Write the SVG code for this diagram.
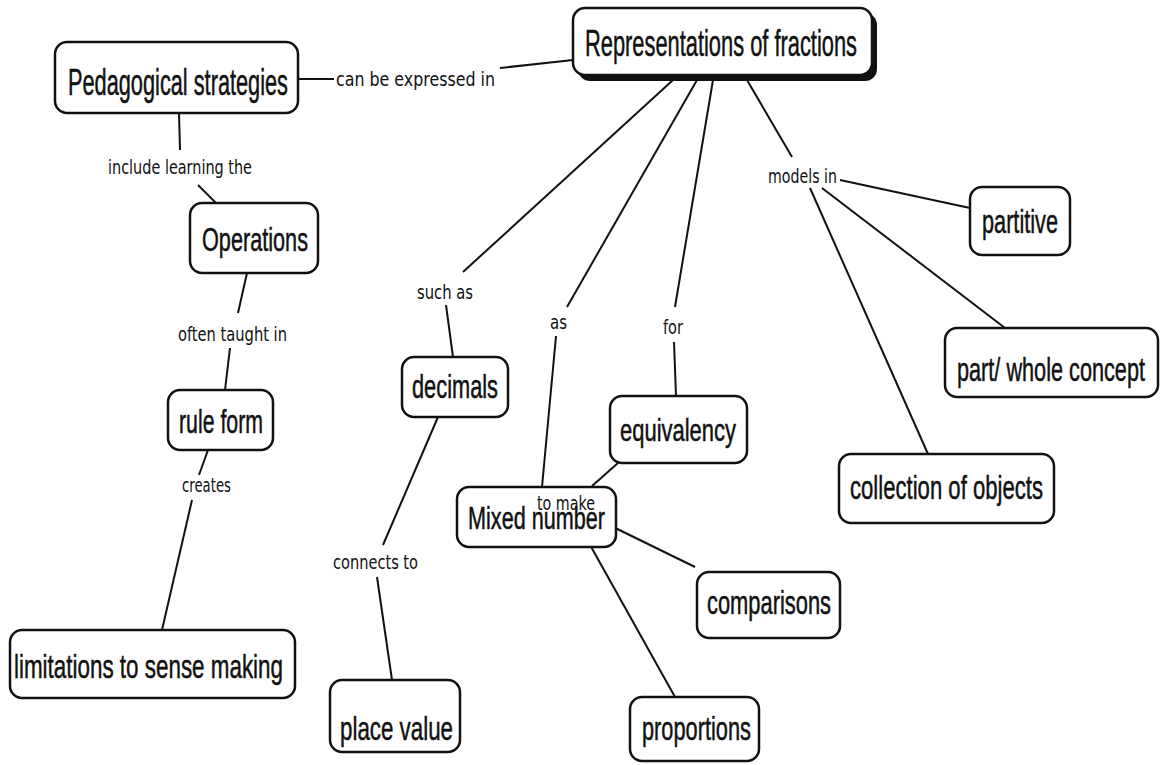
<svg xmlns="http://www.w3.org/2000/svg" width="1164" height="765" viewBox="0 0 1164 765">
<style>
.box{fill:#fff;stroke:#111;stroke-width:2.5}
.sh{fill:#111}
.nt{font-family:"Liberation Sans Narrow","Liberation Sans",Arial,sans-serif;fill:#111;stroke:#111;stroke-width:0.5}
.lt{font-family:"DejaVu Sans Condensed","DejaVu Sans",sans-serif;font-size:20px;fill:#111}
.c line{stroke:#111;stroke-width:2;fill:none}
</style>
<rect width="1164" height="765" fill="#fff"/>
<g class="c" id="connectors">
<line x1="298" y1="79" x2="334" y2="79"/>
<line x1="500" y1="68" x2="573" y2="60"/>
<line x1="179" y1="113" x2="180" y2="150"/>
<line x1="198" y1="185" x2="216" y2="203"/>
<line x1="247" y1="273" x2="238" y2="313"/>
<line x1="230" y1="348" x2="225" y2="390"/>
<line x1="208" y1="450" x2="199" y2="475"/>
<line x1="192" y1="500" x2="162" y2="630"/>
<line x1="673" y1="80" x2="463" y2="272"/>
<line x1="446" y1="305" x2="453" y2="357"/>
<line x1="438" y1="417" x2="383" y2="545"/>
<line x1="377" y1="577" x2="392" y2="680"/>
<line x1="697" y1="80" x2="567" y2="307"/>
<line x1="556" y1="336" x2="542" y2="487"/>
<line x1="713" y1="80" x2="675" y2="307"/>
<line x1="674" y1="342" x2="676" y2="396"/>
<line x1="747" y1="80" x2="792" y2="157"/>
<line x1="840" y1="180" x2="970" y2="208"/>
<line x1="822" y1="188" x2="1005" y2="328"/>
<line x1="810" y1="188" x2="928" y2="454"/>
<line x1="618" y1="463" x2="592" y2="486"/>
<line x1="603" y1="522" x2="695" y2="567"/>
<line x1="580" y1="527" x2="675" y2="697"/>
</g>
<g id="labels">
<text class="lt" x="336" y="86" textLength="159" lengthAdjust="spacingAndGlyphs">can be expressed in</text>
<text class="lt" x="108" y="174" textLength="144" lengthAdjust="spacingAndGlyphs">include learning the</text>
<text class="lt" x="178" y="341" textLength="109" lengthAdjust="spacingAndGlyphs">often taught in</text>
<text class="lt" x="182" y="492" textLength="49" lengthAdjust="spacingAndGlyphs">creates</text>
<text class="lt" x="417" y="299" textLength="56" lengthAdjust="spacingAndGlyphs">such as</text>
<text class="lt" x="550" y="329" textLength="17" lengthAdjust="spacingAndGlyphs">as</text>
<text class="lt" x="663" y="334" textLength="20" lengthAdjust="spacingAndGlyphs">for</text>
<text class="lt" x="768" y="183" textLength="69" lengthAdjust="spacingAndGlyphs">models in</text>
<text class="lt" x="333" y="569" textLength="85" lengthAdjust="spacingAndGlyphs">connects to</text>
</g>
<g id="n-rep">
<rect class="sh" x="578" y="13" width="299" height="68" rx="12"/>
<rect class="box" x="573" y="8" width="299" height="67" rx="12"/>
<text class="nt" x="585" y="56" font-size="37" textLength="272" lengthAdjust="spacingAndGlyphs">Representations of fractions</text>
</g>
<g id="n-ped">
<rect class="box" x="55" y="42" width="243" height="71" rx="12"/>
<text class="nt" x="68" y="95" font-size="37" textLength="220" lengthAdjust="spacingAndGlyphs">Pedagogical strategies</text>
</g>
<g id="n-ops">
<rect class="box" x="190" y="203" width="128" height="70" rx="12"/>
<text class="nt" x="202" y="251" font-size="33" textLength="106" lengthAdjust="spacingAndGlyphs">Operations</text>
</g>
<g id="n-rule">
<rect class="box" x="168" y="390" width="105" height="60" rx="12"/>
<text class="nt" x="179" y="433" font-size="33" textLength="84" lengthAdjust="spacingAndGlyphs">rule form</text>
</g>
<g id="n-lim">
<rect class="box" x="10" y="630" width="285" height="68" rx="12"/>
<text class="nt" x="14" y="678" font-size="34" textLength="269" lengthAdjust="spacingAndGlyphs">limitations to sense making</text>
</g>
<g id="n-place">
<rect class="box" x="330" y="680" width="130" height="72" rx="12"/>
<text class="nt" x="340" y="740" font-size="34" textLength="113" lengthAdjust="spacingAndGlyphs">place value</text>
</g>
<g id="n-dec">
<rect class="box" x="402" y="357" width="106" height="60" rx="12"/>
<text class="nt" x="412" y="398" font-size="34" textLength="86" lengthAdjust="spacingAndGlyphs">decimals</text>
</g>
<g id="n-equiv">
<rect class="box" x="610" y="396" width="137" height="67" rx="12"/>
<text class="nt" x="620" y="441" font-size="32" textLength="116" lengthAdjust="spacingAndGlyphs">equivalency</text>
</g>
<g id="n-mixed">
<rect class="box" x="457" y="487" width="159" height="60" rx="12"/>
<text class="nt" x="468" y="529" font-size="31" textLength="137" lengthAdjust="spacingAndGlyphs">Mixed number</text>
<text class="lt" x="537" y="510" textLength="58" lengthAdjust="spacingAndGlyphs">to make</text>
</g>
<g id="n-comp">
<rect class="box" x="697" y="572" width="143" height="66" rx="12"/>
<text class="nt" x="707" y="614" font-size="33" textLength="124" lengthAdjust="spacingAndGlyphs">comparisons</text>
</g>
<g id="n-prop">
<rect class="box" x="630" y="697" width="129" height="64" rx="12"/>
<text class="nt" x="642" y="740" font-size="33" textLength="109" lengthAdjust="spacingAndGlyphs">proportions</text>
</g>
<g id="n-coll">
<rect class="box" x="839" y="454" width="215" height="69" rx="12"/>
<text class="nt" x="850" y="499" font-size="33" textLength="193" lengthAdjust="spacingAndGlyphs">collection of objects</text>
</g>
<g id="n-part">
<rect class="box" x="970" y="187" width="100" height="68" rx="12"/>
<text class="nt" x="982" y="233" font-size="33" textLength="76" lengthAdjust="spacingAndGlyphs">partitive</text>
</g>
<g id="n-whole">
<rect class="box" x="945" y="328" width="213" height="69" rx="12"/>
<text class="nt" x="957" y="381" font-size="34" textLength="188" lengthAdjust="spacingAndGlyphs">part/ whole concept</text>
</g>
</svg>
